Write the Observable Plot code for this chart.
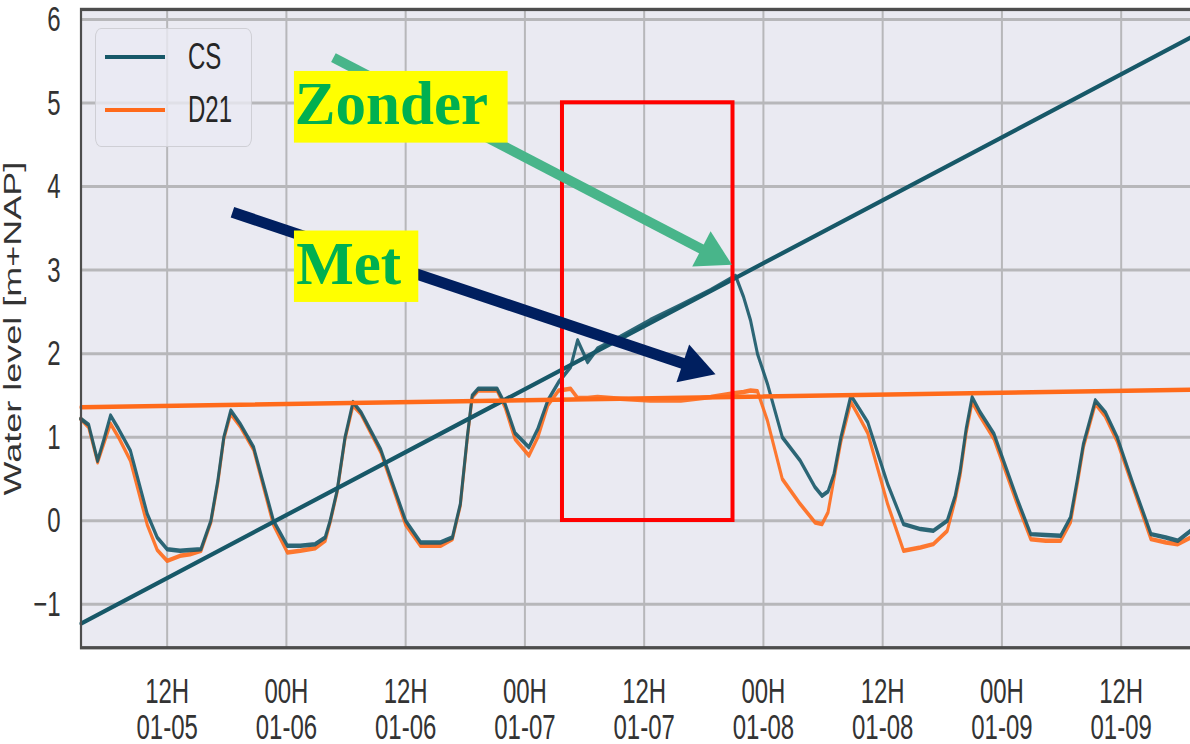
<!DOCTYPE html>
<html><head><meta charset="utf-8">
<script src="https://cdn.jsdelivr.net/npm/d3@7"></script>
<script src="https://cdn.jsdelivr.net/npm/@observablehq/plot@0.6"></script>
<style>
html,body{margin:0;padding:0;background:#fff;overflow:hidden}
#wrap{position:relative;width:1190px;height:744px;overflow:hidden}
#wrap svg{position:absolute;left:0;top:0}
.legend{position:absolute;left:95px;top:28px;width:157px;height:119px;box-sizing:border-box;background:rgba(234,234,242,0.8);border:1.5px solid rgba(204,204,210,0.9);border-radius:6px/9px}
.sw{position:absolute;left:105px;width:60px;height:4px}
.lt{position:absolute;left:188px;height:24px;line-height:24px;font-size:24px;font-family:"Liberation Sans",Arial,sans-serif;color:#262626;transform:scaleY(1.5);transform-origin:center;white-space:nowrap}
</style></head><body><div id="wrap"></div>
<script>
// ---- data (time in hours since 01-05 00:00) ----
const hours = [3.3,4.1,5.0,5.7,6.3,7.1,8.3,10.0,11.0,12.0,13.3,14.3,15.4,16.4,17.1,17.7,18.4,19.4,20.7,22.7,
  24.1,25.4,26.9,27.9,28.4,29.1,29.9,30.7,31.5,33.5,36.0,37.5,39.5,40.7,41.5,42.2,42.7,43.3,45.2,46.0,
  47.0,48.4,49.3,50.3,51.4,52.6,53.3,54.3,55.3,57.6,60.6,63.7,66.7,69.2,70.0,70.7,71.4,72.4,73.9,75.7,
  77.2,77.9,78.5,79.1,79.8,80.8,81.6,82.5,84.5,86.1,87.8,89.1,90.5,91.3,91.8,92.4,93.0,93.8,95.2,97.6,
  98.9,100.4,101.9,102.9,103.6,104.2,105.4,106.4,107.6,109.2,111.0,112.5,113.7,115.0];
const csLevel = [1.22,1.15,0.72,1.00,1.26,1.10,0.84,0.08,-0.20,-0.34,-0.36,-0.35,-0.34,0.00,0.48,1.00,1.32,1.15,0.88,0.00,
  -0.30,-0.30,-0.28,-0.20,0.00,0.36,1.00,1.42,1.30,0.85,0.00,-0.26,-0.26,-0.20,0.20,1.00,1.50,1.58,1.58,1.40,
  1.05,0.88,1.10,1.44,1.66,1.84,2.16,1.90,2.06,2.20,2.40,2.58,2.76,2.93,2.68,2.40,2.00,1.64,1.00,0.72,
  0.40,0.30,0.35,0.56,1.00,1.50,1.35,1.18,0.44,-0.04,-0.10,-0.12,0.00,0.30,0.60,1.10,1.48,1.30,1.04,0.24,
  -0.16,-0.17,-0.18,0.04,0.50,0.92,1.44,1.30,1.00,0.44,-0.16,-0.20,-0.24,-0.12];
const d21Level = [1.22,1.12,0.70,0.95,1.16,1.00,0.72,-0.05,-0.35,-0.48,-0.42,-0.40,-0.36,-0.02,0.45,0.98,1.28,1.12,0.85,-0.05,
  -0.38,-0.36,-0.33,-0.24,-0.02,0.34,0.98,1.38,1.28,0.82,-0.05,-0.30,-0.30,-0.22,0.18,0.98,1.48,1.56,1.56,1.36,
  0.98,0.78,1.00,1.38,1.56,1.58,1.47,1.47,1.48,1.46,1.44,1.44,1.48,1.53,1.54,1.56,1.55,1.20,0.50,0.20,
  -0.02,-0.04,0.10,0.50,0.95,1.42,1.25,1.05,0.20,-0.36,-0.32,-0.28,-0.12,0.25,0.55,1.05,1.42,1.25,0.98,0.18,
  -0.22,-0.24,-0.24,-0.02,0.45,0.88,1.40,1.25,0.95,0.40,-0.22,-0.26,-0.28,-0.20];
// straight reference lines (start, end)
const lineHours = [3.33, 115.58];
const csLineLevel = [-1.23, 5.82];
const d21LineLevel = [1.36, 1.57];
// axes
const xTickHours = [12,24,36,48,60,72,84,96,108];
const yTicks = [-1,0,1,2,3,4,5,6];
const yLabel = "Water level [m+NAP]";
const seriesNames = ["CS","D21"];
// annotations
const redBox = [{h1: 51.78, h2: 68.94, v1: 0, v2: 5}];
const arrowZonder = [{h1: 28.73, v1: 5.54, h2: 68.84, v2: 3.06}];
const arrowMet = [{h1: 18.57, v1: 3.69, h2: 67.18, v2: 1.75}];
const labelBoxes = [
  {text: "Zonder", h1: 24.81, h2: 46.31, v1: 4.517, v2: 5.375, th: 24.85, tv: 4.75},
  {text: "Met", h1: 24.81, h2: 37.32, v1: 2.61, v2: 3.465, th: 24.98, tv: 2.83}
];

// ---- helpers ----
const t0 = Date.UTC(2021, 0, 5);
const toDate = h => new Date(t0 + h * 3600e3);
const xDomain = [toDate(3.33), toDate(115.58)];
const yDomain = [-1.52, 6.12];
const W = 1196, H = 744, S = 1.5;
const mL = 80.5, mR = 0, mT = 8.7, mB = 97;
const CS_COLOR = "#175868", D21_COLOR = "#ff6a1a";

const cs = hours.map((h, i) => ({t: toDate(h), v: csLevel[i]}));
const d21 = hours.map((h, i) => ({t: toDate(h), v: d21Level[i]}));
const csLine = lineHours.map((h, i) => ({t: toDate(h), v: csLineLevel[i]}));
const d21Line = lineHours.map((h, i) => ({t: toDate(h), v: d21LineLevel[i]}));
const xTicks = xTickHours.map(toDate);
const fmt = d3.utcFormat("%HH\n%m-%d");

// ---- base chart (drawn at 1/S height, stretched vertically like the reference) ----
const base = Plot.plot({
  width: W, height: H / S,
  marginLeft: mL, marginRight: mR, marginTop: mT / S, marginBottom: mB / S,
  style: {fontFamily: "'Liberation Sans', Arial, sans-serif", fontSize: "24px", color: "#333", background: "white", overflow: "visible"},
  x: {type: "utc", domain: xDomain},
  y: {type: "linear", domain: yDomain},
  marks: [
    Plot.frame({fill: "#eaeaf2", stroke: "none"}),
    Plot.ruleX(xTicks, {stroke: "#b7b7ba", strokeWidth: 2}),
    Plot.ruleY(yTicks, {stroke: "#b7b7ba", strokeWidth: 2}),
    Plot.line(d21, {x: "t", y: "v", stroke: D21_COLOR, strokeWidth: 3, strokeOpacity: 0.9}),
    Plot.line(cs, {x: "t", y: "v", stroke: CS_COLOR, strokeWidth: 3, strokeOpacity: 0.9}),
    Plot.line(csLine, {x: "t", y: "v", stroke: CS_COLOR, strokeWidth: 3}),
    Plot.line(d21Line, {x: "t", y: "v", stroke: D21_COLOR, strokeWidth: 3}),
    Plot.frame({stroke: "#4d4d4d", strokeWidth: 2.2}),
    Plot.axisX({ticks: xTicks, tickFormat: fmt, tickSize: 0, tickPadding: 20, label: null, fontSize: 24}),
    Plot.axisY({ticks: yTicks, tickSize: 0, tickPadding: 20.5, label: null, fontSize: 24}),
    Plot.text([yLabel], {frameAnchor: "left", text: d => d, rotate: -90, dx: -60, textAnchor: "middle", lineAnchor: "bottom", fontSize: 24, fill: "#333"})
  ]
});
base.setAttribute("height", H);
base.setAttribute("preserveAspectRatio", "none");
base.style.height = H + "px";
base.style.width = W + "px";
base.style.maxWidth = "none";

// ---- annotation overlay (not stretched) ----
const xs = Plot.scale({x: {type: "utc", domain: xDomain, range: [mL, W - mR]}});
const ys = Plot.scale({y: {type: "linear", domain: yDomain, range: [H - mB, mT]}});
const headHalf = 11.5; // d3 triangle half-height unit
const headR = Math.sqrt(3 * Math.sqrt(3) * headHalf * headHalf / Math.PI);
function arrowMarks(arr, color, sw) {
  const a = arr[0];
  const dxp = xs.apply(toDate(a.h2)) - xs.apply(toDate(a.h1));
  const dyp = ys.apply(a.v2) - ys.apply(a.v1);
  const th = Math.atan2(dyp, dxp);
  return [
    Plot.arrow(arr, {x1: d => toDate(d.h1), y1: "v1", x2: d => toDate(d.h2), y2: "v2", stroke: color, strokeWidth: sw, headLength: 0, insetEnd: 20, strokeLinecap: "butt"}),
    Plot.dot(arr, {x: d => toDate(d.h2), y: "v2", symbol: "triangle", r: headR, fill: color, stroke: "none",
      rotate: th * 180 / Math.PI + 90, dx: -2 * headHalf * Math.cos(th), dy: -2 * headHalf * Math.sin(th)})
  ];
}
const over = Plot.plot({
  width: W, height: H,
  marginLeft: mL, marginRight: mR, marginTop: mT, marginBottom: mB,
  style: {background: "transparent", overflow: "visible"},
  x: {type: "utc", domain: xDomain, axis: null},
  y: {type: "linear", domain: yDomain, axis: null},
  marks: [
    Plot.rect(redBox, {x1: d => toDate(d.h1), x2: d => toDate(d.h2), y1: "v1", y2: "v2", fill: "none", stroke: "#ff0000", strokeWidth: 4}),
    ...arrowMarks(arrowZonder, "#48b58a", 10),
    ...arrowMarks(arrowMet, "#001f5f", 11),
    Plot.rect(labelBoxes, {x1: d => toDate(d.h1), x2: d => toDate(d.h2), y1: "v1", y2: "v2", fill: "#ffff00"}),
    Plot.text(labelBoxes, {x: d => toDate(d.th), y: "tv", text: "text", textAnchor: "start", lineAnchor: "bottom",
      fontSize: 61, fontWeight: "bold", fontFamily: "'Liberation Serif', 'DejaVu Serif', serif", fill: "#00b050"})
  ]
});
over.style.maxWidth = "none";

// ---- legend (inside the axes, stretched like the chart) ----
const wrap = document.getElementById("wrap");
wrap.appendChild(base);
const lg = document.createElement("div");
lg.className = "legend";
wrap.appendChild(lg);
const lgColors = [CS_COLOR, D21_COLOR];
const lgY = [57, 110];
seriesNames.forEach((name, i) => {
  const sw = document.createElement("div");
  sw.className = "sw";
  sw.style.top = (lgY[i] - 2) + "px";
  sw.style.background = lgColors[i];
  wrap.appendChild(sw);
  const t = document.createElement("div");
  t.className = "lt";
  t.style.top = (lgY[i] - 12) + "px";
  t.textContent = name;
  wrap.appendChild(t);
});
wrap.appendChild(over);
</script></body></html>
